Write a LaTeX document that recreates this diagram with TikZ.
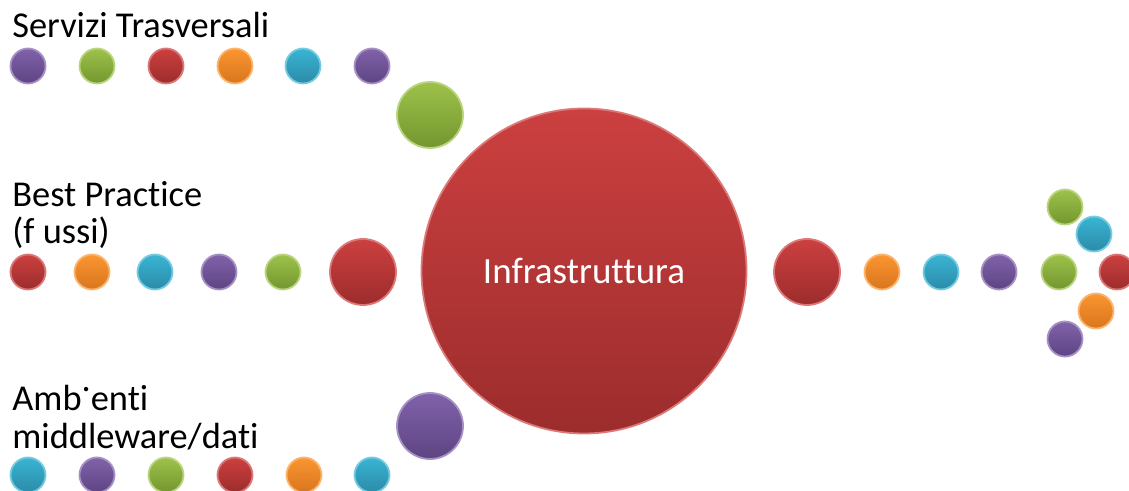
\documentclass[tikz,border=0pt]{standalone}
\usepackage{fontspec}
\setmainfont{Carlito}[Ligatures=NoCommon]
\definecolor{pT}{HTML}{8062AA}\definecolor{pB}{HTML}{5E4483}
\definecolor{gT}{HTML}{9DC24A}\definecolor{gB}{HTML}{74962F}
\definecolor{rT}{HTML}{CC4040}\definecolor{rB}{HTML}{9C2C2C}
\definecolor{oT}{HTML}{FA9530}\definecolor{oB}{HTML}{D9761E}
\definecolor{cT}{HTML}{3BB4D4}\definecolor{cB}{HTML}{2A8BA8}
\tikzset{
  ball/.style 2 args={circle, inner sep=0pt, top color=#1, bottom color=#2, draw=#1!70!white, line width=0.9pt},
  sm/.style={minimum size=17.5pt},
  md/.style={minimum size=33pt},
  P/.style={ball={pT}{pB}}, G/.style={ball={gT}{gB}}, R/.style={ball={rT}{rB}},
  O/.style={ball={oT}{oB}}, C/.style={ball={cT}{cB}},
  lbl/.style={anchor=base west, inner sep=0pt, font=\fontsize{18.2pt}{19pt}\selectfont, align=left}
}
\begin{document}
\begin{tikzpicture}[x=0.5pt,y=-0.5pt]
\useasboundingbox (0,0) rectangle (1129,491);
\clip (0,0) rectangle (1129,491);
% labels
\node[lbl] (t1) at (12,38) {Servizi Trasversali};
\node[lbl] (t2) at (12,207) {Best Practice};
\node[lbl] (t2b) at (12,244) {(f ussi)};
\node[lbl] (t3) at (12,410) {Amb\raisebox{1.05ex}{.}enti};
\node[lbl] (t3b) at (12,448) {middleware/dati};
% top row
\node[P,sm] (a1) at (28,66) {};
\node[G,sm] (a2) at (97,66) {};
\node[R,sm] (a3) at (166,66) {};
\node[O,sm] (a4) at (235,66) {};
\node[C,sm] (a5) at (303,66) {};
\node[P,sm] (a6) at (372,66) {};
\node[G,md] (aB) at (430,115) {};
% middle row
\node[R,sm] (b1) at (28,272) {};
\node[O,sm] (b2) at (92,272) {};
\node[C,sm] (b3) at (155,272) {};
\node[P,sm] (b4) at (219,272) {};
\node[G,sm] (b5) at (283,272) {};
\node[R,md] (bB) at (363,272) {};
% bottom row
\node[C,sm] (c1) at (28,475) {};
\node[P,sm] (c2) at (97,475) {};
\node[G,sm] (c3) at (166,475) {};
\node[R,sm] (c4) at (235,475) {};
\node[O,sm] (c5) at (304,475) {};
\node[C,sm] (c6) at (372,475) {};
\node[P,md] (cB) at (430,426) {};
% main
\node[R,minimum size=162.5pt,text=white,font=\fontsize{18.5pt}{19pt}\selectfont] (main) at (584,271) {Infrastruttura};
% right
\node[R,md] (d0) at (807,272) {};
\node[O,sm] (d1) at (882,272) {};
\node[C,sm] (d2) at (941,272) {};
\node[P,sm] (d3) at (999,272) {};
\node[G,sm] (d4) at (1059,272) {};
\node[R,sm] (d5) at (1117,272) {};
\node[G,sm] (e1) at (1065,207) {};
\node[C,sm] (e2) at (1094,234) {};
\node[O,sm] (e3) at (1096,311) {};
\node[P,sm] (e4) at (1065,339) {};
\end{tikzpicture}
\end{document}
